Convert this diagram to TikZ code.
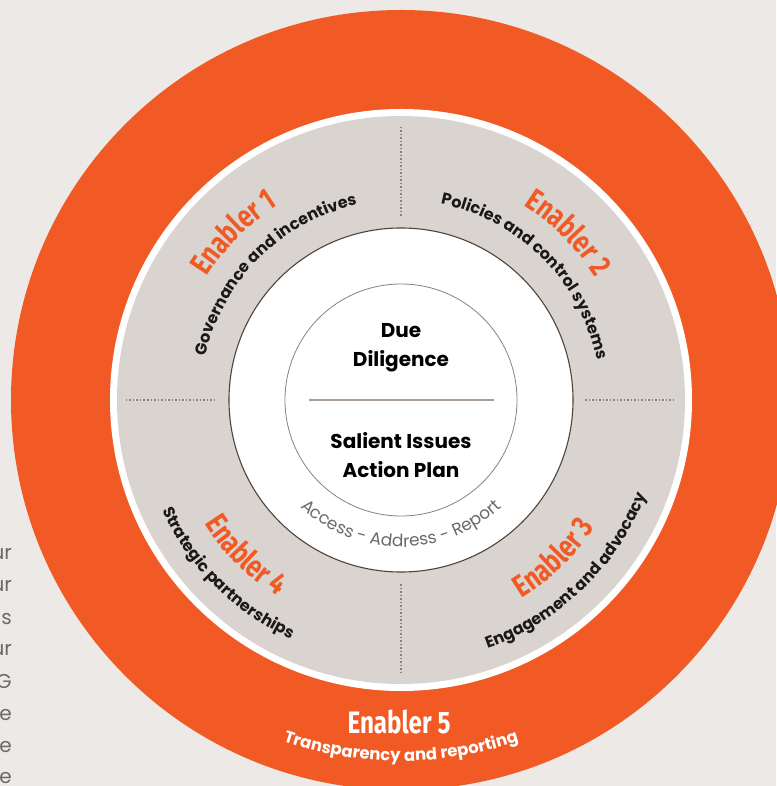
\documentclass[tikz,border=0pt]{standalone}
\usepackage{fontspec}
\setmainfont{Poppins}
\newfontfamily\enabfont[FakeStretch=0.78]{Fira Sans}
\usetikzlibrary{decorations.text}
\definecolor{laranja}{HTML}{F15A24}
\definecolor{fundo}{HTML}{ECE9E6}
\definecolor{anel}{HTML}{D9D4D0}
\definecolor{borda}{HTML}{4F443C}
\definecolor{bordaclara}{HTML}{8C8178}
\definecolor{divisor}{HTML}{A89D94}
\definecolor{cinzatexto}{HTML}{6A6A6A}
\newcommand{\corA}{laranja}
\newcommand{\corB}{fundo}
\newcommand{\corC}{anel}
\newcommand{\corD}{borda}
\newcommand{\corE}{bordaclara}
\newcommand{\corF}{divisor}
\newcommand{\corG}{cinzatexto}
\newcommand{\fonteEnab}{\enabfont\bfseries\fontsize{31}{31}\selectfont}
\newcommand{\fonteDesc}{\bfseries\fontsize{16}{16}\selectfont}
\tikzset{
  enabler/.style={decorate, decoration={text along path, text align=center,
      text color=\corA, text={|\fonteEnab|#1}}},
  descricao/.style={decorate, decoration={text along path, text align=center,
      text color=black!90, text={|\fonteDesc|#1}}},
  pontilhado/.style={draw=\corE, line width=1.5, dotted},
  miolo/.style={font=\bfseries\fontsize{20}{29}\selectfont, align=center, inner sep=0pt},
  resto/.style={anchor=base east, inner sep=0pt, text=\corG, font=\fontsize{20}{20}\selectfont}
}
\begin{document}
\begin{tikzpicture}[scale=0.035146]
  \useasboundingbox (-401,-386) rectangle (375,400);
        % fundo
        \fill[\corB] (-401,-386) rectangle (375,400);

        % texto cortado a esquerda
        \node[resto] (r1) at (-389,-159) {ur};
        \node[resto] (r2) at (-389,-191) {ur};
        \node[resto] (r3) at (-389,-224) {s};
        \node[resto] (r4) at (-389,-255) {ur};
        \node[resto] (r5) at (-389,-288) {G};
        \node[resto] (r6) at (-389,-320) {e};
        \node[resto] (r7) at (-389,-352) {e};
        \node[resto] (r8) at (-389,-383) {e};

        % anel laranja
        \fill[\corA] (0,0) circle (390);
        \fill[white] (0,0) circle (291);

        % anel cinza
        \fill[\corC] (0,0) circle (284);
        \draw[pontilhado] (-275,0) -- (-184,0);
        \draw[pontilhado] (184,0) -- (275,0);
        \draw[pontilhado] (0,184) -- (0,274);
        \draw[pontilhado] (0,-184) -- (0,-274);

        % circulos do meio
        \filldraw[fill=white, draw=\corD, line width=1.1] (0,0) circle (172);
        \draw[\corE, line width=0.8] (0,0) circle (116);
        \draw[\corF, line width=1.5] (-92,0) -- (93,0);

        \node[miolo] (dd) at (0,52) {Due\\Diligence};
        \node[miolo] (siap) at (0,-55) {Salient Issues\\Action Plan};

        \path[decorate, decoration={text along path, text align=center, text color=\corG,
            text={|\fontsize{17}{17}\selectfont|Access - Address - Report}}]
            (200:147) arc[start angle=200, end angle=340, radius=147];

        % enabler 1
        \path[enabler={Enabler 1}] (205:230) arc[start angle=205, end angle=65, radius=230];
        \path[descricao={Governance and incentives}] (205:200) arc[start angle=205, end angle=65, radius=200];

        % enabler 2
        \path[enabler={Enabler 2}] (115:230) arc[start angle=115, end angle=-25, radius=230];
        \path[descricao={Policies and control systems}] (115:200) arc[start angle=115, end angle=-25, radius=200];

        % enabler 3
        \path[enabler={Enabler 3}] (-116:232) arc[start angle=-116, end angle=24, radius=232];
        \path[descricao={Engagement and advocacy}] (-116:263) arc[start angle=-116, end angle=24, radius=263];

        % enabler 4
        \path[enabler={Enabler 4}] (155:232) arc[start angle=155, end angle=295, radius=232];
        \path[descricao={Strategic partnerships}] (155:263) arc[start angle=155, end angle=295, radius=263];

        % enabler 5
        \node[anchor=base, inner sep=0pt, text=white, font=\fonteEnab] (e5) at (-2,-333) {Enabler 5};
        \path[decorate, decoration={text along path, text align=center, text color=white,
            text={|\fontsize{16.5}{16.5}\selectfont\bfseries|Transparency and reporting}}]
            (230:361) arc[start angle=230, end angle=310, radius=361];
\end{tikzpicture}
\end{document}
